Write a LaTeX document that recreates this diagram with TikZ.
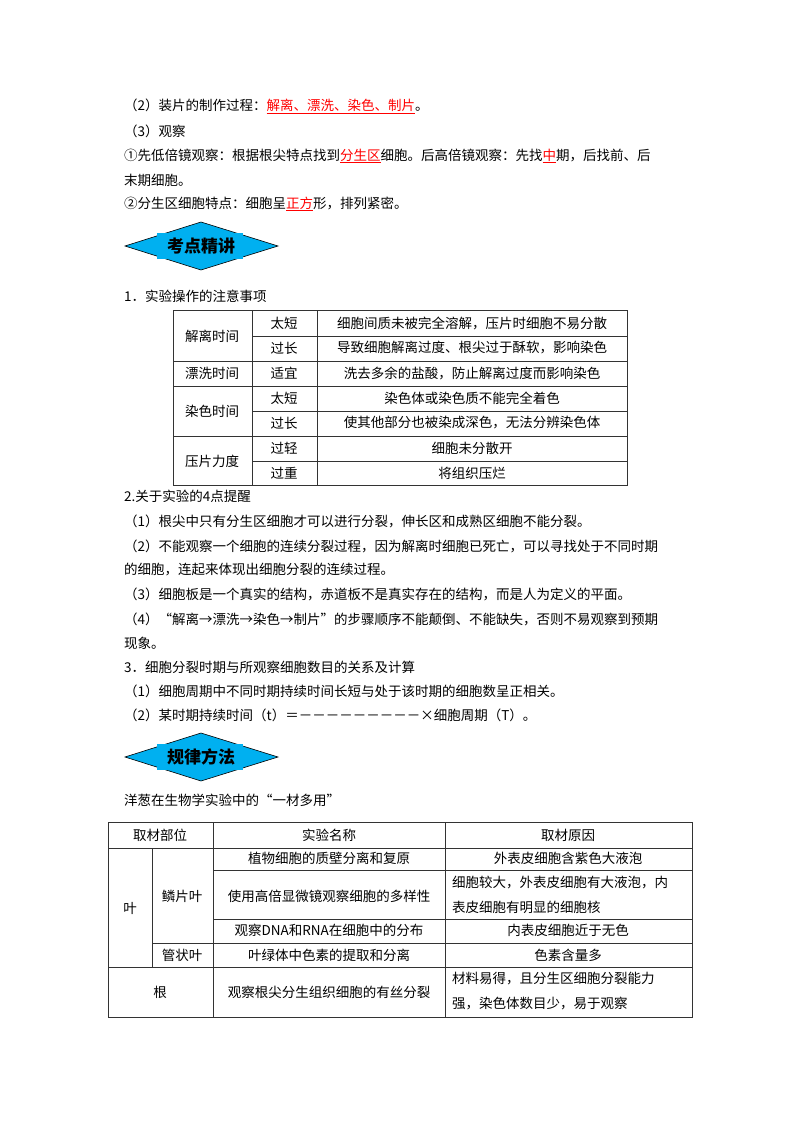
\documentclass[tikz,border=0pt]{standalone}
\usepackage{fontspec}
\setmainfont{Noto Sans CJK SC}
\usepackage{xcolor}
\definecolor{bannercyan}{RGB}{0,176,240}
\begin{document}
\begin{tikzpicture}[x=1pt,y=-1pt,
  txt/.style={anchor=west,inner sep=0pt,font=\fontsize{13.5}{16}\selectfont},
  cell/.style={inner sep=0pt,font=\fontsize{13.5}{16}\selectfont},
  grid/.style={line width=0.8pt,black!80},
  banner/.style={fill=bannercyan,draw=black,line width=0.6pt},
  btxt/.style={inner sep=0pt,font=\fontsize{17}{20}\selectfont\bfseries}]
\useasboundingbox (0,0) rectangle (800,1132);
\newcommand{\hl}[1]{\textcolor{red}{\underline{#1}}}
\node[txt] (l1) at (124,106) {（2）装片的制作过程：\hl{解离、漂洗、染色、制片}。};
\node[txt] (l2) at (124,131) {（3）观察};
\node[txt] (l3) at (124,156) {①先低倍镜观察：根据根尖特点找到\hl{分生区}细胞。后高倍镜观察：先找\hl{中}期，后找前、后};
\node[txt] (l4) at (124,180) {末期细胞。};
\node[txt] (l5) at (124,204) {②分生区细胞特点：细胞呈\hl{正方}形，排列紧密。};
% banner 1
\draw[banner] (125,246) -- (201,222) -- (278,246) -- (201,270) -- cycle;
\fill[bannercyan] (157,233) rectangle (243,259);
\node[btxt] (b1) at (201,246) {考点精讲};
\node[txt] (s1) at (124,296) {1．实验操作的注意事项};
% table 1
\draw[grid] (173,310) rectangle (627,485);
\draw[grid] (252,310) -- (252,485) (317,310) -- (317,485);
\draw[grid] (173,361) -- (627,361) (173,386) -- (627,386) (173,436) -- (627,436);
\draw[grid] (252,336) -- (627,336) (252,411) -- (627,411) (252,461) -- (627,461);
\node[cell] (a1) at (212,336) {解离时间};
\node[cell] (a2) at (212,373) {漂洗时间};
\node[cell] (a3) at (212,411) {染色时间};
\node[cell] (a4) at (212,461) {压片力度};
\node[cell] (b1a) at (284,323) {太短};
\node[cell] (b2a) at (284,348) {过长};
\node[cell] (b3a) at (284,373) {适宜};
\node[cell] (b4a) at (284,398) {太短};
\node[cell] (b5a) at (284,423) {过长};
\node[cell] (b6a) at (284,448) {过轻};
\node[cell] (b7a) at (284,473) {过重};
\node[cell] (c1) at (472,323) {细胞间质未被完全溶解，压片时细胞不易分散};
\node[cell] (c2) at (472,348) {导致细胞解离过度、根尖过于酥软，影响染色};
\node[cell] (c3) at (472,373) {洗去多余的盐酸，防止解离过度而影响染色};
\node[cell] (c4) at (472,398) {染色体或染色质不能完全着色};
\node[cell] (c5) at (472,423) {使其他部分也被染成深色，无法分辨染色体};
\node[cell] (c6) at (472,448) {细胞未分散开};
\node[cell] (c7) at (472,473) {将组织压烂};
\node[txt] (s2) at (124,496) {2.关于实验的4点提醒};
\node[txt] (p1) at (124,521) {（1）根尖中只有分生区细胞才可以进行分裂，伸长区和成熟区细胞不能分裂。};
\node[txt] (p2) at (124,546) {（2）不能观察一个细胞的连续分裂过程，因为解离时细胞已死亡，可以寻找处于不同时期};
\node[txt] (p2b) at (124,570) {的细胞，连起来体现出细胞分裂的连续过程。};
\node[txt] (p3) at (124,594) {（3）细胞板是一个真实的结构，赤道板不是真实存在的结构，而是人为定义的平面。};
\node[txt] (p4) at (124,619) {（4）“解离→漂洗→染色→制片”的步骤顺序不能颠倒、不能缺失，否则不易观察到预期};
\node[txt] (p4b) at (124,643) {现象。};
\node[txt] (s3) at (124,667) {3．细胞分裂时期与所观察细胞数目的关系及计算};
\node[txt] (q1) at (124,691) {（1）细胞周期中不同时期持续时间长短与处于该时期的细胞数呈正相关。};
\node[txt] (q2) at (124,715) {（2）某时期持续时间（t）＝－－－－－－－－－×细胞周期（T）。};
% banner 2
\draw[banner] (125,757) -- (201,733) -- (278,757) -- (201,781) -- cycle;
\fill[bannercyan] (157,744) rectangle (243,770);
\node[btxt] (b2) at (201,757) {规律方法};
\node[txt] (s4) at (124,800) {洋葱在生物学实验中的“一材多用”};
% table 2
\draw[grid] (108,822) rectangle (692,1017);
\draw[grid] (108,848) -- (692,848);
\draw[grid] (213,822) -- (213,1017) (445,822) -- (445,1017);
\draw[grid] (152,848) -- (152,967);
\draw[grid] (213,870) -- (692,870) (213,919) -- (692,919);
\draw[grid] (152,943) -- (692,943) (108,967) -- (692,967);
\node[cell] (h1) at (160,835) {取材部位};
\node[cell] (h2) at (329,835) {实验名称};
\node[cell] (h3) at (568,835) {取材原因};
\node[cell] (y1) at (130,908) {叶};
\node[cell] (y2) at (182,896) {鳞片叶};
\node[cell] (y3) at (182,955) {管状叶};
\node[cell] (y4) at (160,992) {根};
\node[cell] (e1) at (329,858) {植物细胞的质壁分离和复原};
\node[cell] (e2) at (329,896) {使用高倍显微镜观察细胞的多样性};
\node[cell] (e3) at (329,930) {观察DNA和RNA在细胞中的分布};
\node[cell] (e4) at (329,955) {叶绿体中色素的提取和分离};
\node[cell] (e5) at (329,992) {观察根尖分生组织细胞的有丝分裂};
\node[cell] (r1) at (568,858) {外表皮细胞含紫色大液泡};
\node[txt] (r2) at (452,883) {细胞较大，外表皮细胞有大液泡，内};
\node[txt] (r2b) at (452,907) {表皮细胞有明显的细胞核};
\node[cell] (r3) at (568,930) {内表皮细胞近于无色};
\node[cell] (r4) at (568,955) {色素含量多};
\node[txt] (r5) at (452,979) {材料易得，且分生区细胞分裂能力};
\node[txt] (r5b) at (452,1004) {强，染色体数目少，易于观察};
\end{tikzpicture}
\end{document}
